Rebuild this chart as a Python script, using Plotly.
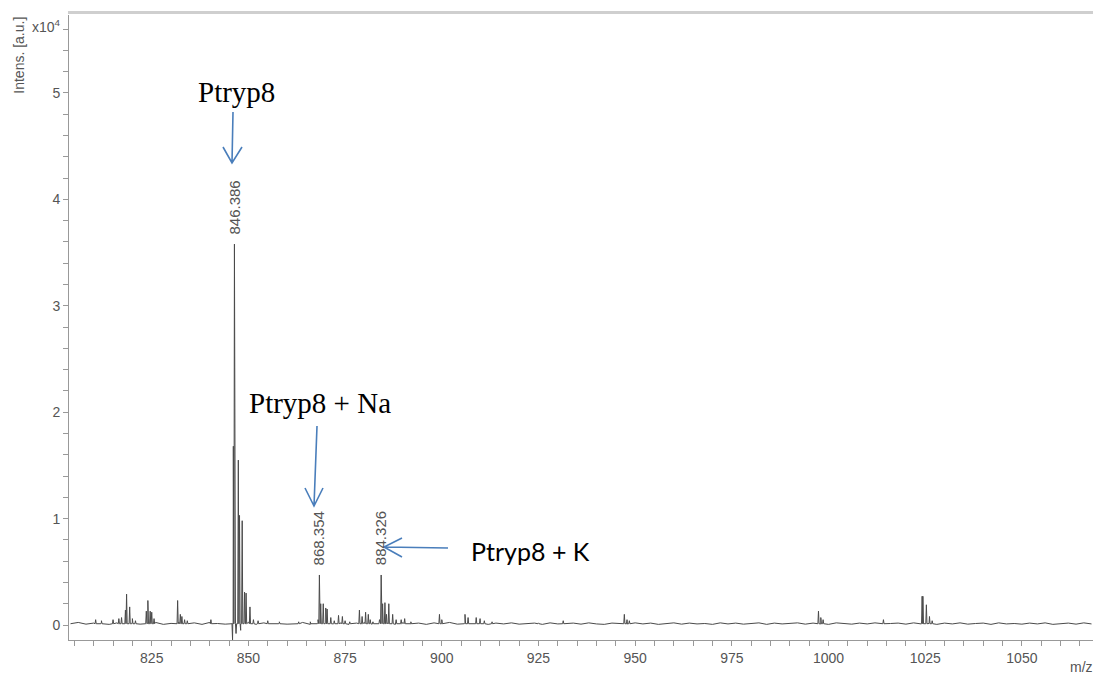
import plotly.graph_objects as go

# ---------------- data (intensity in units of 10^4 a.u.) ----------------
noise_mz = [804, 806, 808, 810, 812, 814, 816, 818, 820, 822, 824, 826, 828, 830,
            832, 834, 836, 838, 840, 842, 844, 846, 848, 850, 852, 854, 856, 858,
            860, 862, 864, 866, 868, 870, 872, 874, 876, 878, 880, 882, 884, 886,
            888, 890, 892, 894, 896, 898, 900, 902, 904, 906, 908, 910, 912, 914,
            916, 918, 920, 922, 924, 926, 928, 930, 932, 934, 936, 938, 940, 942,
            944, 946, 948, 950, 952, 954, 956, 958, 960, 962, 964, 966, 968, 970,
            972, 974, 976, 978, 980, 982, 984, 986, 988, 990, 992, 994, 996, 998,
            1000, 1002, 1004, 1006, 1008, 1010, 1012, 1014, 1016, 1018, 1020, 1022,
            1024, 1026, 1028, 1030, 1032, 1034, 1036, 1038, 1040, 1042, 1044, 1046,
            1048, 1050, 1052, 1054, 1056, 1058, 1060, 1062, 1064, 1066, 1068]
noise_int = [0.012, 0.024, 0.008, 0.018, 0.026, 0.006, 0.020, 0.012, 0.028, 0.008, 0.018, 0.024, 0.006, 0.015,
             0.026, 0.010, 0.020, 0.006, 0.024, 0.014, 0.008, 0.018, 0.010, 0.026, 0.006, 0.020, 0.010, 0.024,
             0.008, 0.015, 0.024, 0.006, 0.018, 0.026, 0.010, 0.020, 0.006, 0.018, 0.024, 0.008, 0.015, 0.020,
             0.006, 0.024, 0.010, 0.018, 0.006, 0.020, 0.014, 0.024, 0.008, 0.018, 0.010, 0.020, 0.006, 0.018,
             0.010, 0.020, 0.008, 0.014, 0.018, 0.006, 0.020, 0.010, 0.014, 0.018, 0.008, 0.020, 0.010, 0.006,
             0.018, 0.014, 0.008, 0.020, 0.010, 0.018, 0.006, 0.014, 0.020, 0.008, 0.018, 0.010, 0.014, 0.006,
             0.020, 0.010, 0.018, 0.008, 0.014, 0.020, 0.006, 0.018, 0.010, 0.014, 0.020, 0.008, 0.018, 0.010,
             0.006, 0.020, 0.014, 0.008, 0.018, 0.010, 0.020, 0.006, 0.014, 0.018, 0.008, 0.020,
             0.010, 0.014, 0.006, 0.018, 0.010, 0.020, 0.008, 0.014, 0.018, 0.006, 0.020, 0.010,
             0.014, 0.008, 0.018, 0.010, 0.020, 0.006, 0.014, 0.018, 0.008, 0.020, 0.010]

peak_mz = [810.5, 812.0, 815.0, 816.5, 817.2, 818.2, 818.5, 819.3, 820.0, 820.8,
           823.6, 824.0, 824.6, 825.0, 825.6, 831.7, 832.4, 832.8, 833.5, 834.2,
           840.3, 845.9, 846.1, 846.386, 846.8, 847.39, 847.7, 848.0, 848.39, 849.0,
           849.4, 850.4, 851.3, 852.5, 855.0, 858.0, 863.0, 866.0, 868.0, 868.354,
           868.7, 869.35, 870.0, 870.35, 871.3, 872.2, 873.3, 874.3, 875.0, 876.2,
           878.7, 879.4, 880.3, 881.0, 881.5, 882.2, 883.9, 884.326, 884.7, 885.3,
           885.7, 886.3, 887.3, 888.2, 889.5, 890.4, 892.0, 899.4, 900.0, 906.0,
           906.8, 908.9, 909.9, 911.0, 913.0, 925.0, 931.4, 947.2, 947.9, 948.5,
           997.4, 998.0, 998.6, 1014.2, 1024.2, 1024.4, 1025.3, 1026.1, 1026.8]
peak_int = [0.05, 0.04, 0.05, 0.06, 0.07, 0.14, 0.29, 0.17, 0.06, 0.04,
            0.13, 0.23, 0.13, 0.12, 0.06, 0.23, 0.10, 0.08, 0.05, 0.04,
            0.05, -0.14, 1.68, 3.58, -0.08, 1.55, 1.03, -0.05, 0.98, 0.31,
            0.30, 0.17, 0.05, 0.04, 0.04, 0.03, 0.03, 0.03, 0.05, 0.47,
            0.20, 0.20, 0.16, 0.15, 0.07, 0.04, 0.09, 0.08, 0.04, 0.03,
            0.14, 0.08, 0.12, 0.10, 0.05, 0.03, 0.05, 0.47, 0.20, 0.21,
            0.10, 0.20, 0.10, 0.05, 0.05, 0.06, 0.03, 0.10, 0.05, 0.10,
            0.07, 0.07, 0.06, 0.04, 0.03, 0.02, 0.04, 0.10, 0.05, 0.04,
            0.13, 0.07, 0.05, 0.05, 0.27, 0.27, 0.19, 0.08, 0.04]

labelled_mz = [846.386, 868.354, 884.326]
labelled_int = [3.58, 0.47, 0.47]
labelled_txt = ["846.386", "868.354", "884.326"]

x_ticks = [825, 850, 875, 900, 925, 950, 975, 1000, 1025, 1050]
y_ticks = [0, 1, 2, 3, 4, 5]

# ---------------- build stick spectrum ----------------
pts = list(zip(noise_mz, noise_int))
for m, h in zip(peak_mz, peak_int):
    pts += [(m - 0.15, 0.012), (m, h), (m + 0.15, 0.012)]
pts.sort()
xs = [p[0] for p in pts]
ys = [p[1] for p in pts]

X0, X1 = 803.61, 1068.9
Y0, Y1 = -0.141, 5.733
# plot-area edges in window pixels; page body adds an 8px offset
OFF = 8
L, R, T, B = 69, 1095, 15, 640
W, H = 1101 - OFF, 674 - OFF


def px_x(px):
    return X0 + (px - L) * (X1 - X0) / (R - L)


def py_y(py):
    return Y1 - (py - T) * (Y1 - Y0) / (B - T)


fig = go.Figure()
fig.add_trace(go.Scatter(x=xs, y=ys, mode="lines",
                         line=dict(color="#4a4a4a", width=1), hoverinfo="skip",
                         showlegend=False))

sans = "Liberation Sans, Arial, sans-serif"
tickfont = dict(family=sans, size=14, color="#555555")
fig.update_layout(
    width=W, height=H, autosize=False,
    margin=dict(l=L - OFF, r=W - (R - OFF), t=T - OFF, b=H - (B - OFF), autoexpand=False),
    paper_bgcolor="white", plot_bgcolor="white",
    xaxis=dict(range=[X0, X1], tickvals=x_ticks, ticks="outside", ticklen=5,
               tickcolor="#999999", showline=True, linecolor="#999999", linewidth=1,
               showgrid=False, zeroline=False, tickfont=tickfont,
               minor=dict(dtick=5, tick0=0, ticks="outside", ticklen=5, tickcolor="#999999")),
    yaxis=dict(range=[Y0, Y1], tickvals=y_ticks, ticks="outside", ticklen=5,
               tickcolor="#999999", showline=True, linecolor="#999999", linewidth=1,
               showgrid=False, zeroline=False, tickfont=tickfont,
               minor=dict(dtick=0.2, tick0=0, ticks="outside", ticklen=5, tickcolor="#999999")),
)

# top gray frame bar
fig.add_shape(type="line", xref="paper", yref="paper", x0=-0.001, x1=1, y0=1.004, y1=1.004,
              line=dict(color="#cfcfcf", width=3))

ann = []
small = dict(family=sans, size=15, color="#555555")
for m, h, t in zip(labelled_mz, labelled_int, labelled_txt):
    ann.append(dict(x=m, y=h, text=t, textangle=-90, showarrow=False, xanchor="center",
                    yanchor="bottom", yshift=8, font=small))

ann.append(dict(xref="paper", yref="paper", x=-0.049, y=0.936, text="Intens. [a.u.]",
                textangle=-90, showarrow=False, xanchor="center", yanchor="middle",
                font=dict(family=sans, size=14, color="#555555")))
ann.append(dict(xref="paper", yref="paper", x=-0.006, y=0.982, text="x10<sup>4</sup>",
                showarrow=False, xanchor="right", yanchor="middle",
                font=dict(family=sans, size=14, color="#555555")))
ann.append(dict(xref="paper", yref="paper", x=1.0, y=-0.043, text="m/z",
                showarrow=False, xanchor="right", yanchor="middle",
                font=dict(family=sans, size=14, color="#555555")))

serif = dict(family="Liberation Serif, Times New Roman, serif", size=29, color="black")
ann.append(dict(x=px_x(236), y=py_y(92), text="Ptryp8", showarrow=False,
                xanchor="center", yanchor="middle", font=serif))
ann.append(dict(x=px_x(320), y=py_y(403), text="Ptryp8 + Na", showarrow=False,
                xanchor="center", yanchor="middle", font=serif))
ann.append(dict(x=px_x(530), y=py_y(551), text="Ptryp8 + K", showarrow=False,
                xanchor="center", yanchor="middle",
                font=dict(family="Lato, Open Sans, sans-serif", size=25, color="black")))
fig.update_layout(annotations=ann)

# blue arrows (line + open V head), positioned in pixel space
arrows = [
    ((233, 112), (232, 163), (223, 147), (242, 147)),
    ((317, 426), (314, 506), (305, 488), (323, 488)),
    ((448, 548), (384, 547), (402, 538), (402, 557)),
]
for (sx, sy), (tx, ty), (ax1, ay1), (ax2, ay2) in arrows:
    path = (f"M {px_x(sx)},{py_y(sy)} L {px_x(tx)},{py_y(ty)} "
            f"M {px_x(ax1)},{py_y(ay1)} L {px_x(tx)},{py_y(ty)} L {px_x(ax2)},{py_y(ay2)}")
    fig.add_shape(type="path", xref="x", yref="y", path=path,
                  line=dict(color="#4a7ebb", width=1.6))

fig.write_html("out.html")
